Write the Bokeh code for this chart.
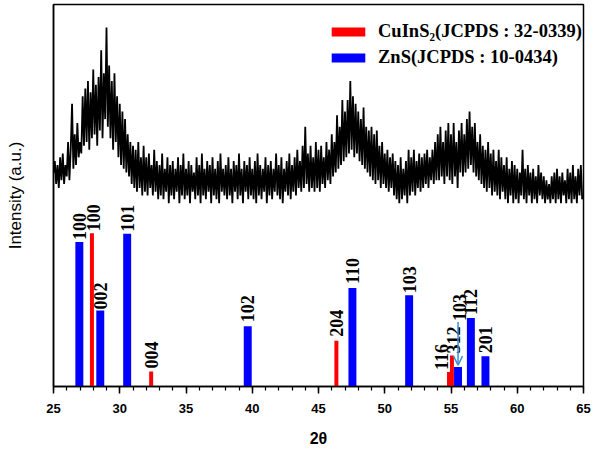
import numpy as np
from bokeh.plotting import figure
from bokeh.models import (Range1d, SingleIntervalTicker, FixedTicker, Legend,
                          LegendItem, ColumnDataSource, Arrow, OpenHead)
from bokeh.core.properties import value
from bokeh.embed import file_html
from bokeh.resources import INLINE

# ---------------- data ----------------
# measured XRD pattern (2-theta grid, intensity a.u.)
xrd_2theta = np.round(np.arange(25.0, 65.0001, 0.1), 1)
xrd_counts = [
    56, 59, 53, 58, 52, 60, 54, 61, 53, 58,
    55, 64, 54, 62, 74, 57, 66, 58, 69, 60,
    64, 61, 76, 63, 78, 64, 80, 62, 77, 65,
    83, 66, 79, 63, 81, 67, 88, 65, 82, 70,
    94, 68, 84, 65, 80, 62, 82, 64, 76, 60,
    74, 58, 72, 57, 70, 56, 66, 55, 64, 53,
    63, 52, 62, 51, 64, 52, 60, 50, 63, 51,
    60, 50, 61, 52, 58, 50, 62, 51, 59, 49,
    58, 50, 61, 49, 57, 51, 60, 48, 58, 50,
    59, 49, 57, 51, 60, 48, 58, 50, 61, 49,
    57, 50, 59, 48, 58, 51, 56, 49, 60, 50,
    58, 48, 61, 50, 57, 49, 59, 51, 58, 48,
    60, 50, 57, 49, 59, 48, 61, 51, 57, 50,
    58, 49, 60, 50, 57, 48, 59, 51, 58, 49,
    61, 50, 57, 48, 59, 51, 58, 49, 60, 50,
    57, 49, 59, 48, 61, 50, 58, 49, 57, 51,
    60, 48, 58, 50, 59, 49, 57, 51, 61, 50,
    58, 49, 60, 48, 57, 51, 59, 50, 61, 49,
    58, 51, 60, 50, 62, 52, 59, 51, 63, 52,
    68, 53, 61, 51, 63, 52, 60, 51, 64, 52,
    62, 51, 63, 53, 60, 52, 64, 54, 62, 53,
    66, 55, 64, 56, 71, 57, 68, 58, 75, 59,
    72, 60, 75, 61, 80, 62, 76, 60, 74, 61,
    72, 59, 70, 58, 73, 57, 68, 56, 67, 55,
    68, 54, 66, 53, 67, 54, 63, 52, 64, 53,
    61, 52, 62, 51, 60, 52, 61, 50, 59, 49,
    58, 48, 60, 49, 57, 50, 59, 48, 62, 50,
    60, 51, 62, 50, 59, 52, 61, 51, 60, 52,
    61, 53, 62, 52, 60, 54, 62, 53, 64, 54,
    66, 54, 68, 55, 64, 53, 67, 55, 69, 54,
    66, 53, 69, 55, 64, 52, 67, 56, 69, 55,
    66, 56, 70, 57, 72, 58, 68, 56, 69, 55,
    64, 54, 66, 53, 63, 52, 62, 51, 64, 52,
    61, 50, 62, 51, 59, 50, 62, 49, 60, 51,
    58, 49, 60, 48, 57, 50, 59, 48, 58, 49,
    57, 48, 56, 50, 62, 49, 57, 48, 58, 50,
    56, 48, 57, 49, 55, 48, 58, 50, 56, 49,
    55, 48, 54, 49, 53, 48, 55, 49, 56, 48,
    57, 49, 55, 48, 56, 50, 54, 48, 57, 49,
    56, 48, 58, 49, 55, 48, 57, 50, 58, 49,
    50,
]

# CuInS2 reference lines (JCPDS 32-0339)
cuins_pos = [27.90, 32.37, 46.35, 54.85, 55.07]
cuins_h = [40.1, 3.9, 12.0, 3.8, 8.1]
cuins_hkl = ["100", "004", "204", "116", "312"]

# ZnS reference lines (JCPDS 10-0434)
zns_pos = [26.95, 28.53, 30.56, 39.66, 47.56, 51.84, 55.53, 56.50, 57.60]
zns_h = [37.8, 19.9, 40.0, 15.8, 25.8, 23.9, 5.1, 17.9, 7.9]
zns_hkl = ["100", "002", "101", "102", "110", "103", "103", "112", "201"]

x_ticks_major = 5
legend_labels = ["CuInS\u2082(JCPDS : 32-0339)", "ZnS(JCPDS : 10-0434)"]

# ---------------- layout (label nudges in screen px) ----------------
cuins_dx = [2, 0, 0, -8, 2]
cuins_dy = [-2, -3, -4, -2, -2]
zns_dx = [0, 0, 0, 0, 0, 0, 1, 0, 0]
zns_dy = [-2, -1, -2, -4, -4, -2, -46, -3, -3]

RED = "#ff0000"
BLUE = "#0000ff"

p = figure(width=600, height=450, output_backend="svg", toolbar_location=None,
           x_range=Range1d(25, 65), y_range=Range1d(0, 100),
           min_border_left=53, min_border_right=17, min_border_top=4,
           min_border_bottom=64)
p.xgrid.visible = False
p.ygrid.visible = False
p.outline_line_color = "black"
p.outline_line_width = 1.5
p.outline_line_alpha = 1.0
p.background_fill_color = "white"
p.border_fill_color = "white"

# measured pattern
p.line(xrd_2theta, xrd_counts, line_color="black", line_width=1.8)

# reference bars
zsrc = ColumnDataSource(dict(x=zns_pos, top=zns_h, lbl=zns_hkl, dx=zns_dx, dy=zns_dy))
csrc = ColumnDataSource(dict(x=cuins_pos, top=cuins_h, lbl=cuins_hkl, dx=cuins_dx, dy=cuins_dy))
r_zns = p.vbar(x="x", top="top", bottom=0, width=0.6, source=zsrc,
               fill_color=BLUE, line_color=None)
r_cu = p.vbar(x="x", top="top", bottom=0, width=0.3, source=csrc,
              fill_color=RED, line_color=None)

for src in (zsrc, csrc):
    p.text(x="x", y="top", text="lbl", x_offset="dx", y_offset="dy", source=src,
           angle=np.pi / 2, text_align="left", text_baseline="middle",
           text_font=value("Liberation Serif"), text_font_style="bold",
           text_font_size="18px", text_color="black")

# arrow pointing to the second ZnS (103) line
i = 6
p.add_layout(Arrow(end=OpenHead(size=9, line_color="#3b8ed6", line_width=1.5),
                   x_start=zns_pos[i], y_start=zns_h[i] + 11.8,
                   x_end=zns_pos[i], y_end=zns_h[i] + 0.5,
                   line_color="#3b8ed6", line_width=1.5))

# axes
xa = p.xaxis[0]
xa.ticker = SingleIntervalTicker(interval=x_ticks_major, num_minor_ticks=5)
xa.axis_label = "2\u03b8"
xa.axis_label_text_font = "Liberation Sans"
xa.axis_label_text_font_style = "bold"
xa.axis_label_text_font_size = "16px"
xa.axis_label_text_color = "black"
xa.axis_label_standoff = 14
xa.major_label_text_font = "Liberation Sans"
xa.major_label_text_font_style = "bold"
xa.major_label_text_font_size = "13px"
xa.major_label_text_color = "black"
xa.major_label_standoff = 10
xa.major_tick_out = 7
xa.major_tick_in = 0
xa.minor_tick_out = 4
xa.minor_tick_in = 0
xa.axis_line_width = 1.5
xa.major_tick_line_width = 1.5
xa.minor_tick_line_width = 1.2
xa.axis_line_color = "black"
xa.major_tick_line_color = "black"
xa.minor_tick_line_color = "black"

ya = p.yaxis[0]
ya.ticker = FixedTicker(ticks=[])
ya.axis_label = "Intensity (a.u.)"
ya.axis_label_text_font = "Liberation Sans"
ya.axis_label_text_font_style = "normal"
ya.axis_label_text_font_size = "17px"
ya.axis_label_text_color = "black"
ya.axis_label_standoff = 29
ya.major_tick_out = 0
ya.major_tick_in = 0
ya.minor_tick_out = 0
ya.minor_tick_in = 0
ya.major_label_standoff = 0
ya.axis_line_width = 1.5
ya.axis_line_color = "black"

legend = Legend(items=[LegendItem(label=legend_labels[0], renderers=[r_cu]),
                       LegendItem(label=legend_labels[1], renderers=[r_zns])],
                location=(274, 318), orientation="vertical",
                label_text_font="Liberation Serif", label_text_font_style="bold",
                label_text_font_size="18.5px", label_text_color="black",
                label_standoff=9,
                glyph_width=42, glyph_height=11, label_height=20, spacing=5,
                padding=0, margin=0, border_line_color=None,
                background_fill_alpha=0)
p.add_layout(legend)

open("out.html", "w").write(file_html(p, INLINE))
